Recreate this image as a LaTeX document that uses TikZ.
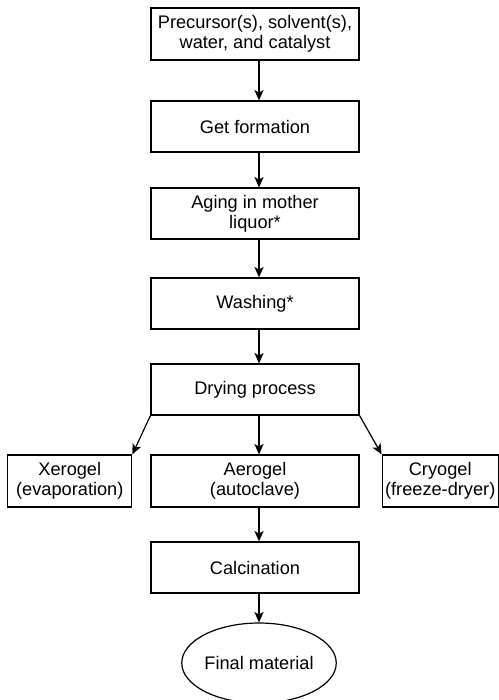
\documentclass[tikz,border=0pt]{standalone}
\usepackage{fontspec}
\setmainfont{Liberation Sans}
\usetikzlibrary{shapes,arrows,arrows.meta,positioning}

\begin{document}
\begin{tikzpicture}[x=0.5pt,y=-0.5pt]
      \tikzstyle{stepbox} = [rectangle, draw, line width=0.6pt, minimum width=104pt, minimum height=25.5pt, inner sep=0pt, align=center, font=\fontsize{9.1}{10}\selectfont]
      \tikzstyle{sidebox} = [stepbox, minimum height=26pt]
      \tikzstyle{result} = [ellipse, draw, line width=0.6pt, minimum width=72.5pt, minimum height=40pt, inner sep=0pt, font=\fontsize{9.1}{10}\selectfont]
      \tikzstyle{flow} = [-{Stealth[length=5.2pt,width=4.6pt,inset=1.3pt]}, line width=0.6pt]

      \useasboundingbox (0,0) rectangle (498,700);
      \coordinate (spine) at (259,0);

      \node[stepbox, minimum height=26pt] (input) at (255,34) {Precursor(s), solvent(s),\\water, and catalyst};
      \node[stepbox] (gel) at (255,126.5) {Get formation};
      \node[stepbox] (aging) at (255,213.5) {Aging in mother\\liquor*};
      \node[stepbox] (washing) at (255,303.5) {Washing*};
      \node[stepbox] (drying) at (255,389.5) {Drying process};

      \node[sidebox] (aerogel) at (255,481) {Aerogel\\(autoclave)};
      \node[sidebox, minimum width=62pt, left=9pt of aerogel] (xerogel) {Xerogel\\(evaporation)};
      \node[sidebox, minimum width=58pt, right=11pt of aerogel] (cryogel) {Cryogel\\(freeze-dryer)};

      \node[stepbox] (calcination) at (255,567.5) {Calcination};
      \node[result] (final) at (259,663) {Final material};

      \draw[flow] (input.south -| spine) -- (gel.north -| spine);
      \draw[flow] (gel.south -| spine) -- (aging.north -| spine);
      \draw[flow] (aging.south -| spine) -- (washing.north -| spine);
      \draw[flow] (washing.south -| spine) -- (drying.north -| spine);
      \draw[flow] (drying.south -| spine) -- (aerogel.north -| spine);
      \draw[flow] (drying.south west) -- (xerogel.north east);
      \draw[flow] (drying.south east) -- (cryogel.north west);
      \draw[flow] (aerogel.south -| spine) -- (calcination.north -| spine);
      \draw[flow] (calcination.south -| spine) -- (final.north);
\end{tikzpicture}
\end{document}
